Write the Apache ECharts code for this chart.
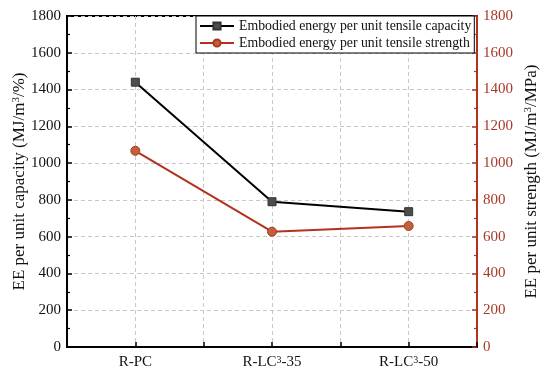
<!DOCTYPE html>
<html><head><meta charset="utf-8">
<script src="https://cdn.jsdelivr.net/npm/echarts@6/dist/echarts.min.js"></script>
<style>html,body{margin:0;padding:0;background:#fff}#c{width:550px;height:376px}</style>
</head><body><div id="c"></div>
<script>
const categories = ['R-PC', 'R-LC\u00b3-35', 'R-LC\u00b3-50'];
const capacityEE = [1440, 790, 736];
const strengthEE = [1067, 627, 658];
const yTicks = [0, 200, 400, 600, 800, 1000, 1200, 1400, 1600, 1800];
const seriesNames = ['Embodied energy per unit tensile capacity', 'Embodied energy per unit tensile strength'];
const leftName = 'EE per unit capacity (MJ/m\u00b3/%)';
const rightName = 'EE per unit strength (MJ/m\u00b3/MPa)';

const FONT = '"Liberation Serif", "Times New Roman", serif';
const RED = '#b2321f';
const sup = s => s.replace(/\u00b3/g, '{sup|3}');
const chart = echarts.init(document.getElementById('c'), null, {renderer: 'canvas'});
const yMin = yTicks[0], yMax = yTicks[yTicks.length - 1], yStep = yTicks[1] - yTicks[0];
function richFor(size, color) {
  return {
    sup: {fontFamily: FONT, fontSize: Math.round(size * 0.65), color: color, verticalAlign: 'top', lineHeight: size},
  };
}
function yAxisCfg(pos, color, labelColor, name, gap) {
  return {
    type: 'value', position: pos, min: yMin, max: yMax, interval: yStep,
    name: sup(name), nameLocation: 'middle', nameGap: gap, nameMoveOverlap: false,
    nameTextStyle: {fontFamily: FONT, fontSize: 17, color: '#111', lineHeight: 17, rich: richFor(17, '#111')},
    axisLine: {show: true, onZero: false, lineStyle: {color: color, width: 2}},
    axisTick: {show: true, inside: true, length: 5, lineStyle: {color: color, width: 1.5}},
    minorTick: {show: true, splitNumber: 2, length: 3, lineStyle: {color: color, width: 1.2}},
    axisLabel: {fontFamily: FONT, fontSize: 15, color: labelColor, margin: 6, formatter: v => String(v)},
    splitLine: {show: pos === 'left', lineStyle: {color: '#c8c8c8', type: [4, 3], width: 1}}
  };
}
chart.setOption({
  animation: false,
  backgroundColor: '#fff',
  grid: {left: 67, right: 73, top: 16, bottom: 29, containLabel: false, outerBoundsMode: 'none',
         show: true, borderColor: '#000', borderWidth: 2, backgroundColor: 'transparent'},
  legend: {
    orient: 'vertical', left: 196, top: 16,
    borderColor: '#000', borderWidth: 1, padding: [3, 3, 3, 3],
    itemWidth: 34, itemHeight: 9, itemGap: 3,
    textStyle: {fontFamily: FONT, fontSize: 13.8, color: '#111'},
    backgroundColor: '#fff',
    data: seriesNames
  },
  xAxis: {
    type: 'value', min: -0.5, max: categories.length - 0.5, interval: 0.5,
    axisLine: {show: true, onZero: false, lineStyle: {color: '#000', width: 2}},
    axisTick: {show: true, inside: true, length: 5, lineStyle: {color: '#000', width: 1.5}},
    axisLabel: {fontFamily: FONT, fontSize: 15, color: '#111', margin: 8, lineHeight: 15,
      showMinLabel: true, showMaxLabel: true, rich: richFor(15, '#111'),
      formatter: v => (Number.isInteger(v) && v >= 0 && v < categories.length) ? sup(categories[v]) : ''},
    splitLine: {show: true, lineStyle: {color: '#c8c8c8', type: [4, 3], width: 1}}
  },
  yAxis: [
    yAxisCfg('left', '#000', '#111', leftName, 39),
    yAxisCfg('right', RED, '#a8392a', rightName, 46)
  ],
  series: [
    {name: seriesNames[0], type: 'line', yAxisIndex: 0,
     data: capacityEE.map((v, i) => [i, v]),
     symbol: 'rect', symbolSize: 8,
     lineStyle: {color: '#000', width: 2},
     itemStyle: {color: '#4d4d4d', borderColor: '#333', borderWidth: 1}},
    {name: seriesNames[1], type: 'line', yAxisIndex: 1,
     data: strengthEE.map((v, i) => [i, v]),
     symbol: 'circle', symbolSize: 9,
     lineStyle: {color: RED, width: 2},
     itemStyle: {color: '#c0603c', borderColor: '#a83a24', borderWidth: 1}}
  ]
});
</script></body></html>
